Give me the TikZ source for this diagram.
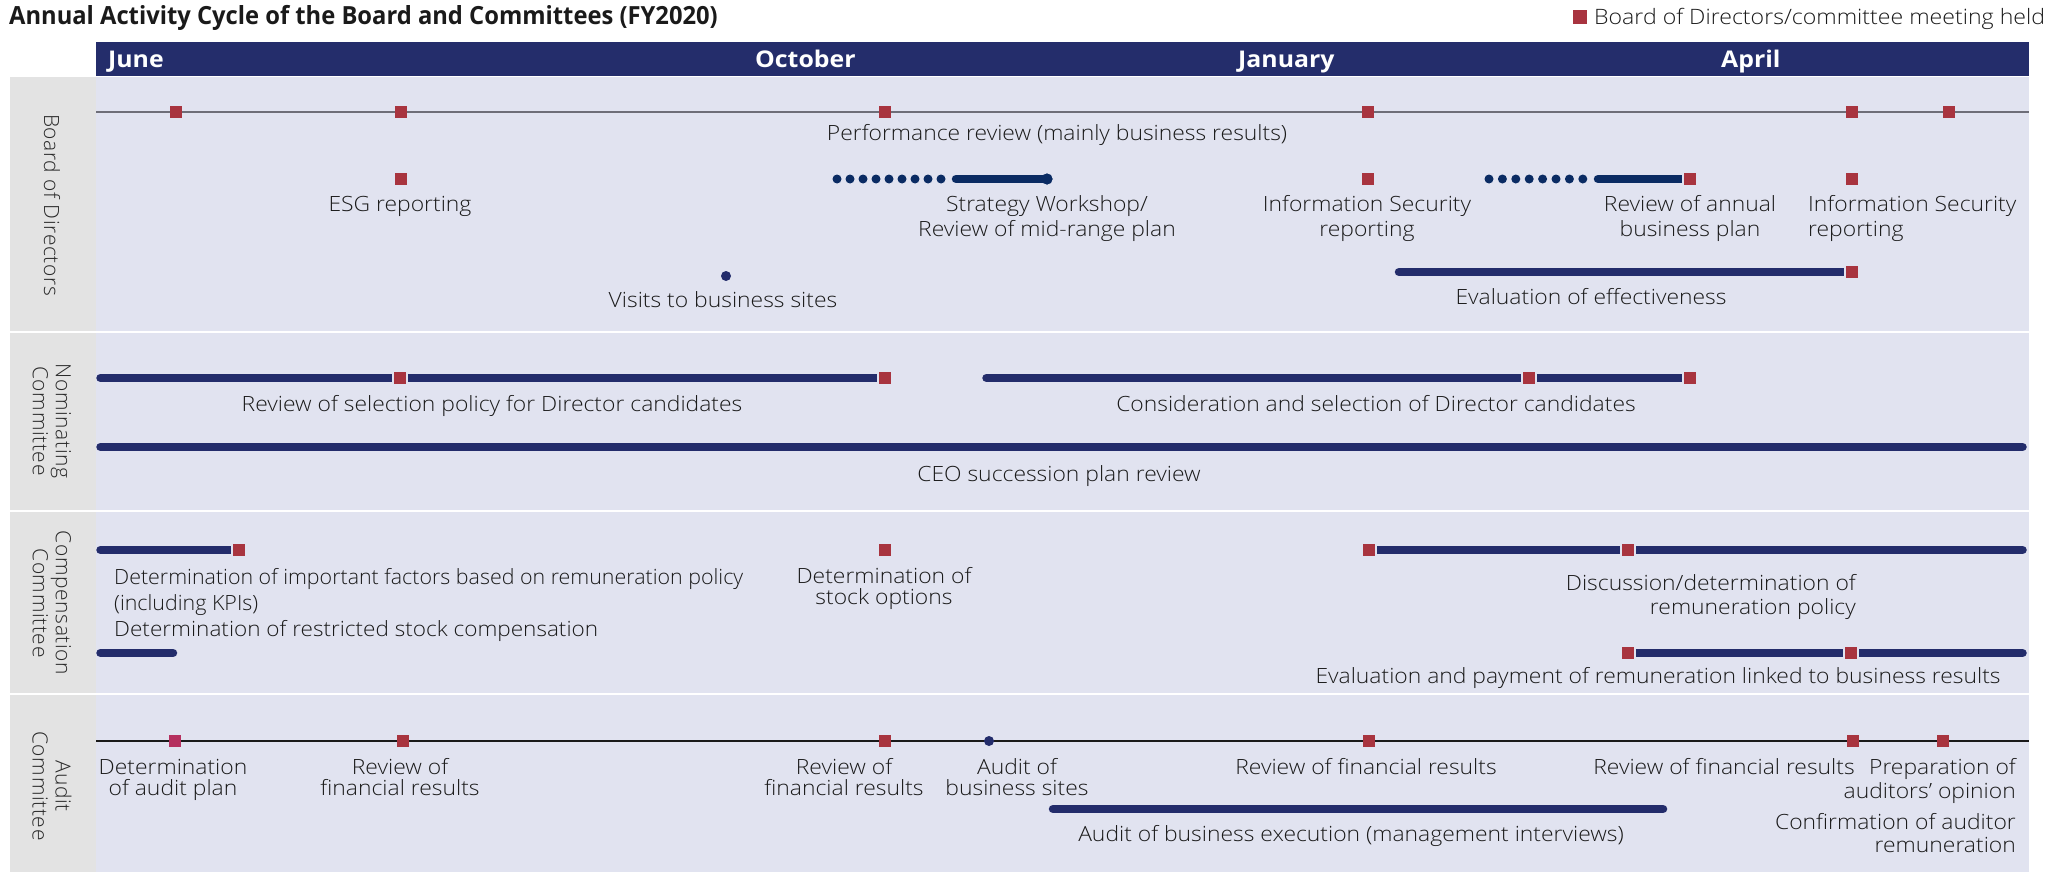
\documentclass[tikz,border=0pt]{standalone}
\usepackage{fontspec}
\usepackage{graphicx}
\IfFontExistsTF{Open Sans Light}{%
  \setmainfont{Open Sans Light}[FakeStretch=1.09, BoldFont={Open Sans Bold}]%
  \newfontfamily\lanef{Open Sans Light}[LetterSpace=3]%
}{%
  \setmainfont{Open Sans}[FakeStretch=1.05]%
  \newfontfamily\lanef{Open Sans}[LetterSpace=3]%
}
\newfontfamily\titlef{Open Sans Bold}[FakeStretch=0.95]
\newfontfamily\monthf{Open Sans Bold}[FakeStretch=1.08]
\definecolor{navy}{HTML}{242D6B}
\definecolor{barc}{HTML}{232C6B}
\definecolor{dotc}{HTML}{0A2B63}
\definecolor{redc}{HTML}{A8343F}
\definecolor{magc}{HTML}{B5305F}
\definecolor{lanebg}{HTML}{E1E3F0}
\definecolor{labbg}{HTML}{E3E3E3}
\definecolor{linegray}{HTML}{6E6E78}
\definecolor{textc}{HTML}{1A1A1A}
\definecolor{lanetxt}{HTML}{2A2A2A}
\newcommand\bodytxt{\fontsize{21}{25}\selectfont}
\newcommand\mlc[2]{{\lineskiplimit=-100pt\baselineskip=#1pt\vtop{\halign{\hfil##\hfil\cr#2\crcr}}}}
\newcommand\mll[2]{{\lineskiplimit=-100pt\baselineskip=#1pt\vtop{\halign{##\hfil\cr#2\crcr}}}}
\newcommand\mlr[2]{{\lineskiplimit=-100pt\baselineskip=#1pt\vtop{\halign{\hfil##\cr#2\crcr}}}}
\tikzset{
  meet/.style={fill=redc, minimum size=12pt, inner sep=0pt},
  meetgap/.style={fill=redc, draw=lanebg, line width=2pt, minimum size=14pt, inner sep=0pt},
  bar/.style={line width=8.5pt, draw=barc, line cap=round},
  dotrow/.style={line width=9pt, draw=dotc, line cap=round, dash pattern=on 0pt off 13pt},
  endpt/.style={circle, fill=dotc, minimum size=11pt, inner sep=0pt},
  smalldot/.style={circle, fill=barc, minimum size=10pt, inner sep=0pt},
  txt/.style={font=\bodytxt, text=textc, inner sep=0pt},
  month/.style={font=\monthf\fontsize{23}{26}\selectfont, text=white, inner sep=0pt, anchor=base west},
  lanelab/.style={font=\lanef\fontsize{21}{23}\selectfont, text=lanetxt, rotate=-90, inner sep=0pt, anchor=center},
}
\begin{document}
\begin{tikzpicture}[x=1pt,y=-1pt]
\useasboundingbox (0,0) rectangle (2051,872);
\fill[white] (0,0) rectangle (2051,872);
% title and legend
\node[font=\titlef\fontsize{25}{28}\selectfont, text=textc, inner sep=0pt, anchor=base west] (title) at (9,25) {Annual Activity Cycle of the Board and Committees (FY2020)};
\node[meet, minimum size=14pt] (legsq) at (1580,17) {};
\node[font=\fontsize{21.2}{24}\selectfont, text=textc, inner sep=0pt, anchor=base west] (legtxt) at (1594,25) {Board of Directors/committee meeting held};
% header band
\fill[navy] (96,42) rectangle (2029,76);
\node[month] (mjun) at (108,68) {June};
\node[month] (moct) at (755,68) {October};
\node[month] (mjan) at (1238,68) {January};
\node[month] (mapr) at (1721,68) {April};
% lanes
\fill[labbg] (10,77) rectangle (96,331);
\fill[lanebg] (96,77) rectangle (2029,331);
\fill[labbg] (10,333) rectangle (96,510);
\fill[lanebg] (96,333) rectangle (2029,510);
\fill[labbg] (10,512) rectangle (96,693);
\fill[lanebg] (96,512) rectangle (2029,693);
\fill[labbg] (10,695) rectangle (96,872);
\fill[lanebg] (96,695) rectangle (2029,872);
\node[lanelab] (lboard) at (52,205) {Board of Directors};
\node[lanelab] (lnom) at (52,421) {\mlc{23}{Nominating\cr Committee}};
\node[lanelab] (lcomp) at (52,603) {\mlc{23}{Compensation\cr Committee}};
\node[lanelab] (laudit) at (52,786) {\mlc{23}{Audit\cr Committee}};

% ===== Board of Directors =====
\coordinate (bl0) at (96,112);
\coordinate (bl1) at (2029,112);
\draw[linegray, line width=2.2pt] (bl0) -- (bl1);
\node[meet] (bt1) at (176,112) {};
\node[meet] (bt2) at (401,112) {};
\node[meet] (bt3) at (885,112) {};
\node[meet] (bt4) at (1368,112) {};
\node[meet] (bt5) at (1852,112) {};
\node[meet] (bt6) at (1949,112) {};
\node[txt, anchor=base] (tperf) at (1057,141) {Performance review (mainly business results)};

\node[meet] (besg) at (401,179) {};
\node[txt, anchor=base] (tesg) at (400,211.7) {ESG reporting};

\coordinate (sd0) at (837,179);
\coordinate (sd1) at (942,179);
\draw[dotrow] (sd0) -- (sd1);
\coordinate (ss0) at (956,179);
\node[endpt] (send) at (1047,179) {};
\draw[bar, draw=dotc] (ss0) -- (send.center);
\node[endpt] at (send) {};
\node[txt, anchor=base] (tstrat) at (1047,211.7) {\mlc{25}{Strategy Workshop/\cr Review of mid-range plan}};

\node[meet] (bis1) at (1368,179) {};
\node[txt, anchor=base] (tis1) at (1367,211.7) {\mlc{25}{Information Security\cr reporting}};

\coordinate (ad0) at (1489,179);
\coordinate (ad1) at (1584,179);
\draw[dotrow, dash pattern=on 0pt off 13.4pt] (ad0) -- (ad1);
\coordinate (as0) at (1598,179);
\node[meetgap] (bann) at (1690,179) {};
\draw[bar, draw=dotc] (as0) -- (bann.center);
\node[meetgap] at (bann) {};
\node[txt, anchor=base] (tann) at (1690,211.7) {\mlc{25}{Review of annual\cr business plan}};

\node[meet] (bis2) at (1852,179) {};
\node[txt, anchor=base west] (tis2) at (1808,211.7) {\mll{25}{Information Security\cr reporting}};

\node[smalldot] (bvis) at (726,276) {};
\node[txt, anchor=base] (tvis) at (723,307) {Visits to business sites};

\coordinate (ev0) at (1399,272);
\node[meetgap] (bev) at (1852,272) {};
\draw[bar] (ev0) -- (bev.center);
\node[meetgap] at (bev) {};
\node[txt, anchor=base] (tev) at (1591,304.5) {Evaluation of effectiveness};

% ===== Nominating Committee =====
\coordinate (n0) at (100.5,378);
\node[meetgap] (n1) at (400,378) {};
\node[meetgap] (n2) at (885,378) {};
\draw[bar] (n0) -- (n2.center);
\node[meetgap] at (n1) {};
\node[meetgap] at (n2) {};
\node[txt, anchor=base] (tsel) at (492,411.7) {Review of selection policy for Director candidates};

\coordinate (n3) at (986.5,378);
\node[meetgap] (n4) at (1529,378) {};
\node[meetgap] (n5) at (1690,378) {};
\draw[bar] (n3) -- (n5.center);
\node[meetgap] at (n4) {};
\node[meetgap] at (n5) {};
\node[txt, anchor=base] (tcons) at (1376,411.7) {Consideration and selection of Director candidates};

\coordinate (ceo0) at (100.5,447);
\coordinate (ceo1) at (2022.5,447);
\draw[bar] (ceo0) -- (ceo1);
\node[txt, anchor=base] (tceo) at (1059,481.7) {CEO succession plan review};

% ===== Compensation Committee =====
\coordinate (c0) at (100.5,550);
\node[meetgap] (c1) at (239,550) {};
\draw[bar] (c0) -- (c1.center);
\node[meetgap] at (c1) {};
\node[txt, anchor=base west] (tfac) at (114,584) {\scalebox{0.935}[1]{\mll{26}{Determination of important factors based on remuneration policy\cr (including KPIs)}}};
\node[txt, anchor=base west] (trsc) at (114,636.5) {\scalebox{0.985}[1]{Determination of restricted stock compensation}};
\coordinate (rs0) at (100.5,653);
\coordinate (rs1) at (173,653);
\draw[bar] (rs0) -- (rs1);

\node[meet] (cso) at (885,550) {};
\node[txt, anchor=base] (tso) at (884,583) {\mlc{21}{Determination of\cr stock options}};

\node[meetgap] (c2) at (1369,550) {};
\node[meetgap] (c3) at (1628,550) {};
\coordinate (c4) at (2022.5,550);
\draw[bar] (c2.center) -- (c4);
\node[meetgap] at (c2) {};
\node[meetgap] at (c3) {};
\node[txt, anchor=base east] (tdisc) at (1856,590) {\mlr{24}{Discussion/determination of\cr remuneration policy}};

\node[meetgap] (c5) at (1628,653) {};
\node[meetgap] (c6) at (1851,653) {};
\coordinate (c7) at (2022.5,653);
\draw[bar] (c5.center) -- (c7);
\node[meetgap] at (c5) {};
\node[meetgap] at (c6) {};
\node[txt, anchor=base] (tpay) at (1658,683) {Evaluation and payment of remuneration linked to business results};

% ===== Audit Committee =====
\coordinate (a0) at (96,741);
\coordinate (a1) at (2029,741);
\draw[textc, line width=1.6pt] (a0) -- (a1);
\node[meet, fill=magc] (aq1) at (175,741) {};
\node[meet] (aq2) at (403,741) {};
\node[meet] (aq3) at (885,741) {};
\node[smalldot] (adot) at (989,741) {};
\node[meet] (aq4) at (1369,741) {};
\node[meet] (aq5) at (1853,741) {};
\node[meet] (aq6) at (1943,741) {};
\node[txt, anchor=base] (tap) at (173,774) {\mlc{21}{Determination\cr of audit plan}};
\node[txt, anchor=base] (tfr1) at (400,774) {\mlc{21}{Review of\cr financial results}};
\node[txt, anchor=base] (tfr2) at (844,774) {\mlc{21}{Review of\cr financial results}};
\node[txt, anchor=base] (tabs) at (1017,774) {\mlc{21}{Audit of\cr business sites}};
\node[txt, anchor=base] (tfr3) at (1366,774) {Review of financial results};
\node[txt, anchor=base] (tfr4) at (1724,774) {Review of financial results};
\node[txt, anchor=base east] (tprep) at (2016,774) {\mlr{24}{Preparation of\cr auditors’ opinion}};
\node[txt, anchor=base east] (tconf) at (2016,829) {\mlr{23.5}{Confirmation of auditor\cr remuneration}};
\coordinate (ab0) at (1053,809);
\coordinate (ab1) at (1663,809);
\draw[bar] (ab0) -- (ab1);
\node[txt, anchor=base] (tabe) at (1351,841.7) {Audit of business execution (management interviews)};
\end{tikzpicture}
\end{document}
